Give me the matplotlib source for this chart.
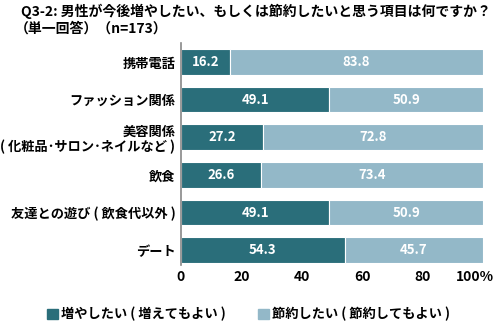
import matplotlib
matplotlib.use('Agg')
import matplotlib.pyplot as plt
import matplotlib.transforms as mtransforms
from matplotlib.patches import Patch

plt.rcParams['font.family'] = ['Noto Sans CJK JP', 'DejaVu Sans']

categories = ['携帯電話', 'ファッション関係', '美容関係\n( 化粧品･サロン･ネイルなど )', '飲食',
              '友達との遊び ( 飲食代以外 )', 'デート']
increase = [16.2, 49.1, 27.2, 26.6, 49.1, 54.3]
save = [83.8, 50.9, 72.8, 73.4, 50.9, 45.7]
series_names = ['増やしたい ( 増えてもよい )', '節約したい ( 節約してもよい )']
xticks = [0, 20, 40, 60, 80, 100]
xticklabels = ['0', '20', '40', '60', '80', '100%']

DARK = '#2a6e7a'
LIGHT = '#93b8c8'

fig = plt.figure(figsize=(4.97, 3.27), dpi=100)
ax = fig.add_axes([0.364, 0.19, 0.608, 0.678])

y = list(range(len(categories)))
ax.barh(y, increase, height=0.68, color=DARK, edgecolor='white', linewidth=0.8)
ax.barh(y, save, left=increase, height=0.68, color=LIGHT, edgecolor='white', linewidth=0.8)

for i in y:
    ax.text(increase[i] / 2, i, f'{increase[i]:.1f}', ha='center', va='center',
            color='white', fontsize=9.5, fontweight='bold')
    ax.text(increase[i] + save[i] / 2, i, f'{save[i]:.1f}', ha='center', va='center',
            color='white', fontsize=9.5, fontweight='bold')

ax.set_xlim(0, 100)
ax.set_ylim(5.39, -0.5)
ax.set_yticks(y)
ax.set_yticklabels(categories, fontsize=9.5, fontweight='bold', linespacing=1.1)
ax.set_xticks(xticks)
ax.set_xticklabels(xticklabels, fontsize=10, fontweight='bold')
ax.tick_params(axis='both', length=0, pad=4)
# nudge "100%" left so it stays inside the figure
last = ax.get_xticklabels()[-1]
last.set_transform(last.get_transform() +
                   mtransforms.ScaledTranslation(-6 / 72, 0, fig.dpi_scale_trans))
for s in ['top', 'right', 'bottom']:
    ax.spines[s].set_visible(False)
ax.spines['left'].set_color('#888888')
ax.spines['left'].set_linewidth(1.2)

fig.text(0.042, 0.99, 'Q3-2: 男性が今後増やしたい、もしくは節約したいと思う項目は何ですか？',
         fontsize=10, fontweight='bold', va='top')
fig.text(0.03, 0.935, '（単一回答）（n=173）', fontsize=10, fontweight='bold', va='top')

handles = [Patch(color=DARK), Patch(color=LIGHT)]
fig.legend(handles, series_names, loc='lower center', bbox_to_anchor=(0.5, -0.02),
           ncol=2, frameon=False, handlelength=0.8, handleheight=0.8, handletextpad=0.2,
           columnspacing=2.5, prop={'size': 9.5, 'weight': 'bold'})

fig.savefig('out.png', dpi=100)
